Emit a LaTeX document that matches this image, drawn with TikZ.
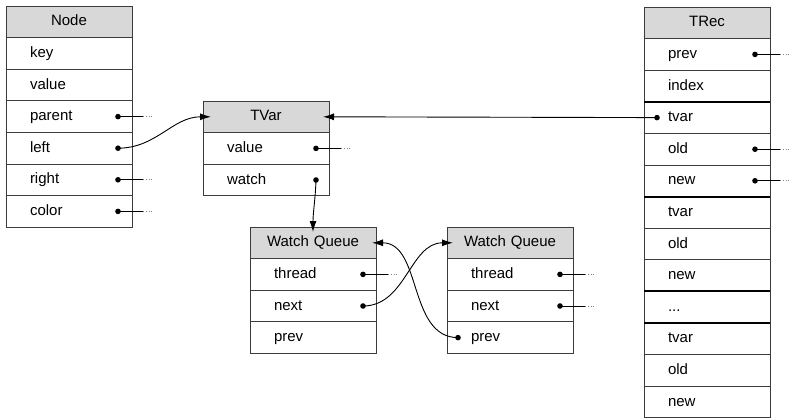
\documentclass[tikz,border=0pt]{standalone}
\usepackage{fontspec}
\setmainfont{Liberation Sans}
\usetikzlibrary{arrows.meta}
\definecolor{hdrgray}{RGB}{216,216,216}
\definecolor{boxline}{RGB}{60,60,60}
\newcommand\threedots{...}
\newcommand\mkrec[5]{%
  \node[hdr] (#1) at (#2,#3) {#4};
  \foreach \f [count=\i] in {#5} {\node[fld] (#1-\i) at (#2,{#3+\i*31.6}) {\f};}
}
\newcommand\ptrdot[3]{%
  \coordinate (#1) at ([xshift=#3]#2.west);
  \fill (#1) circle (2.8pt);
}
\newcommand\stub[1]{%
  \draw[stubline] (#1) -- ++(25pt,0) coordinate (#1-e);
  \draw[stubdots] (#1-e) -- ++(11pt,0) coordinate (#1-f);
}
\tikzset{
  cell/.style={draw=boxline, line width=0.8pt, anchor=north west, minimum height=31.6pt,
    inner ysep=0pt, outer sep=0pt, font=\fontsize{15}{18}\selectfont, text height=11pt, text depth=3pt},
  hdr/.style={cell, fill=hdrgray, inner xsep=0pt, text width=126pt, align=center},
  fld/.style={cell, inner xsep=24pt, text width=78pt, align=left},
  sepline/.style={line width=2pt, black},
  stubline/.style={line width=0.8pt, black},
  stubdots/.style={line width=0.8pt, gray, dotted},
  ptr/.style={line width=0.9pt, black, -{Latex[length=11pt,width=7pt]}}
}
\begin{document}
\begin{tikzpicture}[x=1pt,y=-1pt]
\useasboundingbox (0,0) rectangle (792,420);
% records
\mkrec{N}{6}{6}{Node}{key,value,parent,left,right,color}
\mkrec{TV}{203}{101}{TVar}{value,watch}
\mkrec{W}{250}{227}{Watch Queue}{thread,next,prev}
\mkrec{V}{447}{227}{Watch Queue}{thread,next,prev}
\mkrec{T}{644}{7}{TRec}{prev,index,tvar,old,new,tvar,old,new,\threedots,tvar,old,new}
% thick separators in TRec
\foreach \k in {2,5,8,9} {\draw[sepline] (T-\k.south west) -- (T-\k.south east);}
% pointer dots
\ptrdot{np}{N-3}{112pt}
\ptrdot{nl}{N-4}{112pt}
\ptrdot{nr}{N-5}{112pt}
\ptrdot{nc}{N-6}{112pt}
\ptrdot{tvv}{TV-1}{113pt}
\ptrdot{tvw}{TV-2}{113pt}
\ptrdot{wt}{W-1}{113pt}
\ptrdot{wn}{W-2}{113pt}
\ptrdot{vt}{V-1}{113pt}
\ptrdot{vn}{V-2}{113pt}
\ptrdot{vp}{V-3}{11pt}
\ptrdot{tp}{T-1}{111pt}
\ptrdot{tt}{T-3}{13pt}
\ptrdot{to}{T-4}{111pt}
\ptrdot{tn}{T-5}{111pt}
% dangling pointers
\stub{np}\stub{nr}\stub{nc}\stub{tvv}\stub{wt}\stub{vt}\stub{vn}\stub{tp}\stub{to}\stub{tn}
% connectors
\draw[ptr] (nl) to[out=0,in=180] ([xshift=8pt]TV.west);
\draw[ptr] (tt) -- ([xshift=-6pt]TV.east);
\draw[ptr] (tvw) to[out=-92,in=90] ([yshift=-5pt]W.north);
\draw[ptr] (wn) to[out=0,in=180] ([xshift=6pt]V.west);
\draw[ptr] (vp) to[out=180,in=0] ([xshift=-4pt]W.east);
\end{tikzpicture}
\end{document}
